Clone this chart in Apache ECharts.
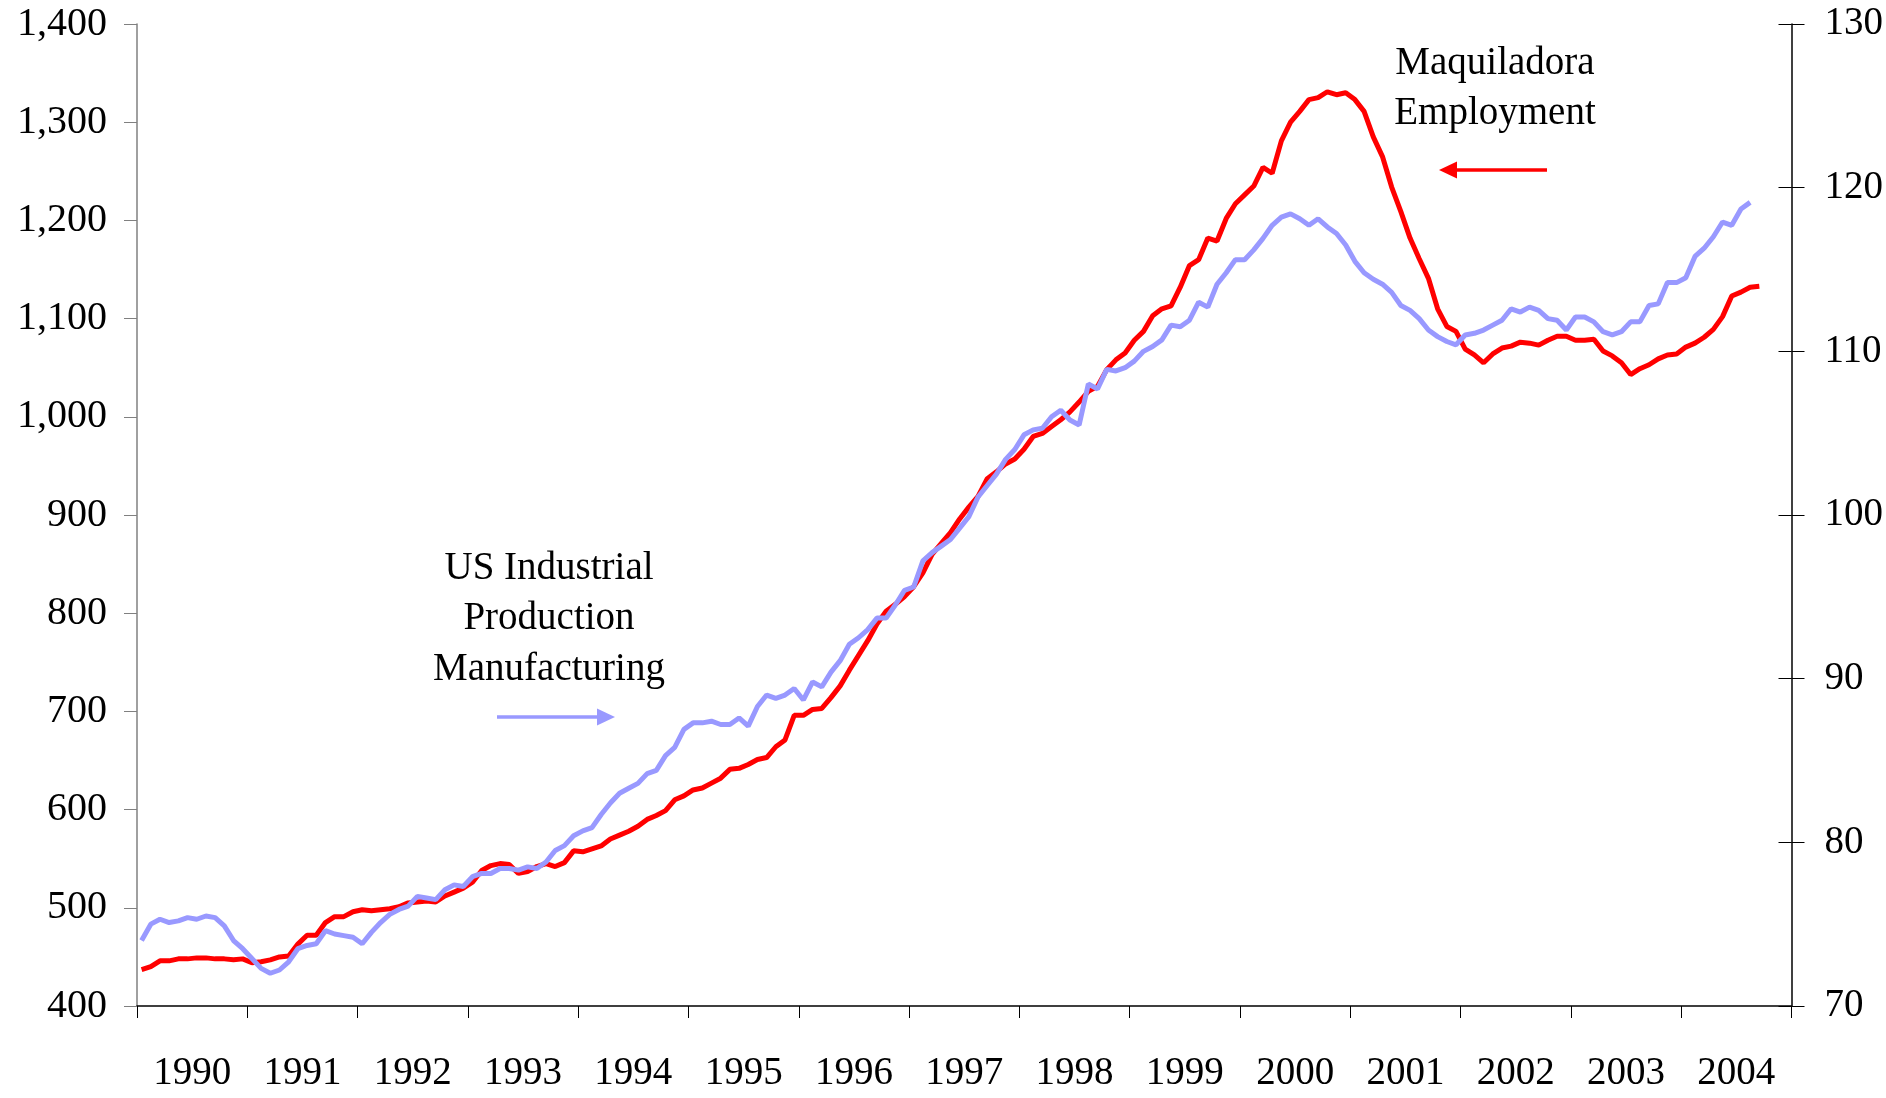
<!DOCTYPE html>
<html>
<head>
<meta charset="utf-8">
<script src="https://cdn.jsdelivr.net/npm/echarts@6/dist/echarts.min.js"></script>
<style>
html, body { margin: 0; padding: 0; background: #fff; }
#main { width: 1886px; height: 1098px; }
</style>
</head>
<body>
<div id="main"></div>
<script>
var myChart = echarts.init(document.getElementById('main'));

var years = ['1990', '1991', '1992', '1993', '1994', '1995', '1996', '1997',
             '1998', '1999', '2000', '2001', '2002', '2003', '2004'];

// maquiladora employment, thousands (left axis), monthly from jan 1990
var maquiladora = [
  437, 440, 446, 446, 448, 448, 449, 449, 448, 448,
  447, 448, 444, 445, 447, 450, 451, 463, 472, 472,
  485, 491, 491, 496, 498, 497, 498, 499, 501, 505,
  506, 507, 506, 512, 516, 520, 526, 538, 543, 545,
  544, 535, 537, 542, 545, 542, 546, 558, 557, 560,
  563, 570, 574, 578, 583, 590, 594, 599, 610, 614,
  620, 622, 627, 632, 641, 642, 646, 651, 653, 664,
  671, 696, 696, 702, 703, 714, 726, 742, 757, 772,
  789, 802, 809, 817, 827, 841, 860, 871, 882, 896,
  908, 919, 937, 944, 952, 957, 967, 980, 983, 990,
  997, 1005, 1015, 1026, 1031, 1048, 1058, 1065, 1078, 1087,
  1103, 1110, 1113, 1132, 1154, 1160, 1182, 1179, 1202, 1217,
  1226, 1235, 1254, 1248, 1281, 1300, 1311, 1323, 1325, 1331,
  1328, 1330, 1323, 1311, 1285, 1265, 1234, 1209, 1182, 1161,
  1141, 1110, 1092, 1087, 1069, 1063, 1055, 1064, 1070, 1072,
  1076, 1075, 1073, 1078, 1082, 1082, 1078, 1078, 1079, 1067,
  1062, 1055, 1043, 1049, 1053, 1059, 1063, 1064, 1071, 1075,
  1081, 1089, 1102, 1123, 1127, 1132, 1133
];

// us industrial production, manufacturing (right axis)
var usIndustrial = [
  74.0, 75.0, 75.3, 75.1, 75.2, 75.4, 75.3, 75.5, 75.4, 74.9,
  74.0, 73.5, 72.9, 72.3, 72.0, 72.2, 72.7, 73.5, 73.7, 73.8,
  74.6, 74.4, 74.3, 74.2, 73.8, 74.5, 75.1, 75.6, 75.9, 76.1,
  76.7, 76.6, 76.5, 77.1, 77.4, 77.3, 77.9, 78.1, 78.1, 78.4,
  78.4, 78.3, 78.5, 78.4, 78.8, 79.5, 79.8, 80.4, 80.7, 80.9,
  81.7, 82.4, 83.0, 83.3, 83.6, 84.2, 84.4, 85.3, 85.8, 86.9,
  87.3, 87.3, 87.4, 87.2, 87.2, 87.6, 87.1, 88.3, 89.0, 88.8,
  89.0, 89.4, 88.7, 89.8, 89.5, 90.4, 91.1, 92.1, 92.5, 93.0,
  93.7, 93.7, 94.5, 95.4, 95.6, 97.2, 97.7, 98.1, 98.5, 99.2,
  99.9, 101.1, 101.8, 102.5, 103.4, 104.0, 104.9, 105.2, 105.3, 106.0,
  106.4, 105.8, 105.5, 108.0, 107.7, 108.9, 108.8, 109.0, 109.4, 110.0,
  110.3, 110.7, 111.6, 111.5, 111.9, 113.0, 112.7, 114.1, 114.8, 115.6,
  115.6, 116.2, 116.9, 117.7, 118.2, 118.4, 118.1, 117.7, 118.1, 117.6,
  117.2, 116.5, 115.5, 114.8, 114.4, 114.1, 113.6, 112.8, 112.5, 112.0,
  111.3, 110.9, 110.6, 110.4, 111.0, 111.1, 111.3, 111.6, 111.9, 112.6,
  112.4, 112.7, 112.5, 112.0, 111.9, 111.3, 112.1, 112.1, 111.8, 111.2,
  111.0, 111.2, 111.8, 111.8, 112.8, 112.9, 114.2, 114.2, 114.5, 115.8,
  116.3, 117.0, 117.9, 117.7, 118.7, 119.1
];

// one category per month, ticks every 12
var months = [];
years.forEach(function (y) {
  for (var m = 1; m <= 12; m++) months.push(y + '-' + m);
});

var serif = '"Liberation Serif", "Times New Roman", serif';
var red = '#ff0000';
var blue = '#9999ff';

function commas(v) {
  return String(v).replace(/\B(?=(\d{3})+(?!\d))/g, ',');
}

function arrow(x1, x2, y, color) {
  var dir = x2 > x1 ? 1 : -1;
  var head = 18, half = 8.5;
  return {
    type: 'group',
    children: [{
      type: 'line',
      shape: { x1: x1, y1: y, x2: x2 - dir * head, y2: y },
      style: { stroke: color, lineWidth: 3.5 }
    }, {
      type: 'polygon',
      shape: { points: [[x2, y], [x2 - dir * head, y - half], [x2 - dir * head, y + half]] },
      style: { fill: color }
    }]
  };
}

function label(x, y, txt) {
  return {
    type: 'text',
    x: x, y: y,
    style: {
      text: txt, fill: '#000', font: '39px ' + serif,
      textAlign: 'center', textVerticalAlign: 'middle'
    }
  };
}

option = {
  animation: false,
  backgroundColor: '#fff',
  grid: { left: 137, right: 93, top: 24, bottom: 92, containLabel: false },
  xAxis: [{
    type: 'category',
    data: months,
    boundaryGap: true,
    axisLine: { lineStyle: { color: '#000', width: 1.5 } },
    axisTick: { show: true, interval: 11, length: 12, lineStyle: { color: '#000', width: 1 } },
    axisLabel: { show: false },
    splitLine: { show: false }
  }, {
    type: 'category',
    data: years,
    position: 'bottom',
    boundaryGap: true,
    axisLine: { show: false },
    axisTick: { show: false },
    axisLabel: { interval: 0, margin: 48, color: '#000', fontFamily: serif, fontSize: 39 },
    splitLine: { show: false }
  }],
  yAxis: [{
    type: 'value',
    position: 'left',
    min: 400, max: 1400, interval: 100,
    axisLine: { show: true, lineStyle: { color: '#808080', width: 1.5 } },
    axisTick: { show: true, length: 13, lineStyle: { color: '#808080', width: 1 } },
    axisLabel: { margin: 30, color: '#000', fontFamily: serif, fontSize: 40, formatter: commas },
    splitLine: { show: false }
  }, {
    type: 'value',
    position: 'right',
    min: 70, max: 130, interval: 10,
    axisLine: { show: true, lineStyle: { color: '#000', width: 1.5 } },
    axisTick: { show: true, length: 13, lineStyle: { color: '#000', width: 1 } },
    axisLabel: { margin: 33, color: '#000', fontFamily: serif, fontSize: 39 },
    splitLine: { show: false }
  }, {
    // inner half of the crossing ticks on the right axis
    type: 'value',
    position: 'right',
    min: 70, max: 130, interval: 10,
    axisLine: { show: false },
    axisTick: { show: true, inside: true, length: 13, lineStyle: { color: '#000', width: 1 } },
    axisLabel: { show: false },
    splitLine: { show: false }
  }],
  series: [{
    name: 'Maquiladora Employment',
    type: 'line',
    xAxisIndex: 0,
    yAxisIndex: 0,
    data: maquiladora,
    symbol: 'none',
    lineStyle: { color: red, width: 5 },
    itemStyle: { color: red },
    z: 2
  }, {
    name: 'US Industrial Production Manufacturing',
    type: 'line',
    xAxisIndex: 0,
    yAxisIndex: 1,
    data: usIndustrial,
    symbol: 'none',
    lineStyle: { color: blue, width: 5 },
    itemStyle: { color: blue },
    z: 3
  }],
  graphic: [
    label(1495, 64, 'Maquiladora'),
    label(1495, 114, 'Employment'),
    arrow(1547, 1439, 170, red),
    label(549, 569, 'US Industrial'),
    label(549, 619, 'Production'),
    label(549, 670, 'Manufacturing'),
    arrow(497, 615, 717, blue)
  ]
};

myChart.setOption(option);
</script>
</body>
</html>
